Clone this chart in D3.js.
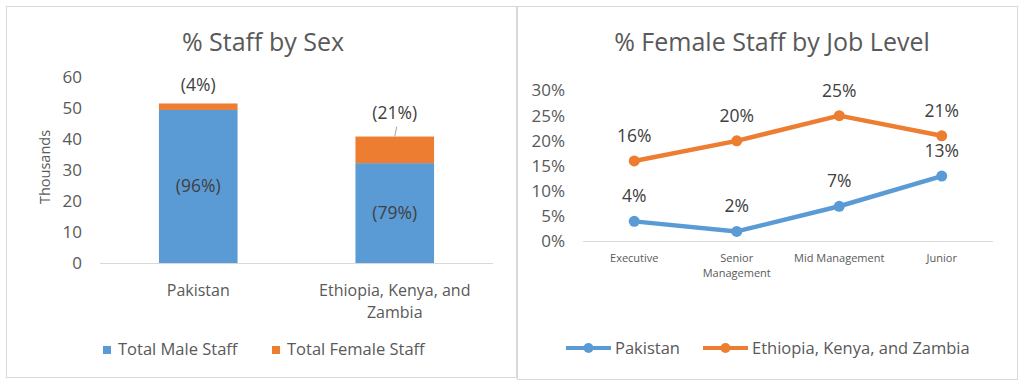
<!DOCTYPE html>
<html>
<head>
<meta charset="utf-8">
<script src="https://cdn.jsdelivr.net/npm/d3@7"></script>
<style>
  body { margin: 0; background: #fff; }
  svg { display: block; font-family: "Open Sans", sans-serif; }
</style>
</head>
<body>
<svg width="1024" height="384"></svg>
<script>
// left chart data (thousands of staff)
const countries = ["Pakistan", "Ethiopia, Kenya, and Zambia"];
const maleStaff = [49.5, 32.3];
const femaleStaff = [2.1, 8.6];
const maleLabels = ["(96%)", "(79%)"];
const femaleLabels = ["(4%)", "(21%)"];
const yTicksLeft = [0, 10, 20, 30, 40, 50, 60];

// right chart data (% female)
const jobLevels = ["Executive", "Senior Management", "Mid Management", "Junior"];
const pakistanFemale = [0.04, 0.02, 0.07, 0.13];
const ekzFemale = [0.16, 0.20, 0.25, 0.21];
const yTicksRight = [0, 0.05, 0.10, 0.15, 0.20, 0.25, 0.30];

const blue = "#5B9BD5", orange = "#ED7D31", textCol = "#595959", gridCol = "#D9D9D9";

const svg = d3.select("svg");

// panel frames
svg.append("rect").attr("x", 6.5).attr("y", 6.5).attr("width", 510).attr("height", 371)
   .attr("fill", "none").attr("stroke", gridCol);
svg.append("rect").attr("x", 517.5).attr("y", 6.5).attr("width", 500).attr("height", 373)
   .attr("fill", "none").attr("stroke", gridCol);

// ---------- left: stacked bars ----------
const x1 = d3.scaleBand().domain(countries).range([100, 493]).paddingInner(0.6).paddingOuter(0.3);
const y1 = d3.scaleLinear().domain([0, 60]).range([263, 77.5]);

svg.append("text").attr("x", 263).attr("y", 51).attr("text-anchor", "middle")
   .attr("font-size", 25).attr("fill", textCol).text("% Staff by Sex");

const gy1 = svg.append("g").attr("transform", "translate(100,0)")
   .call(d3.axisLeft(y1).tickValues(yTicksLeft).tickSize(0).tickPadding(18));
gy1.select(".domain").remove();
gy1.selectAll("text").attr("font-size", 17).attr("fill", textCol).attr("font-family", "Open Sans");

svg.append("text").attr("transform", "translate(50,167) rotate(-90)").attr("text-anchor", "middle")
   .attr("font-size", 14.5).attr("fill", textCol).text("Thousands");

const bars = svg.append("g");
bars.selectAll(".male").data(countries).join("rect")
   .attr("x", d => x1(d)).attr("width", x1.bandwidth())
   .attr("y", (d, i) => y1(maleStaff[i])).attr("height", (d, i) => y1(0) - y1(maleStaff[i]))
   .attr("fill", blue);
bars.selectAll(".female").data(countries).join("rect")
   .attr("x", d => x1(d)).attr("width", x1.bandwidth())
   .attr("y", (d, i) => y1(maleStaff[i] + femaleStaff[i]))
   .attr("height", (d, i) => y1(maleStaff[i]) - y1(maleStaff[i] + femaleStaff[i]))
   .attr("fill", orange);

// x axis line
svg.append("line").attr("x1", 100).attr("x2", 493).attr("y1", 263.5).attr("y2", 263.5)
   .attr("stroke", gridCol);

// in-bar labels
svg.selectAll(".ml").data(countries).join("text")
   .attr("x", d => x1(d) + x1.bandwidth() / 2)
   .attr("y", (d, i) => (y1(0) + y1(maleStaff[i])) / 2 + 6)
   .attr("text-anchor", "middle").attr("font-size", 17.5).attr("fill", "#404040")
   .text((d, i) => maleLabels[i]);
// female labels above bars
const femOffset = [12, 18];
svg.selectAll(".fl").data(countries).join("text")
   .attr("x", d => x1(d) + x1.bandwidth() / 2)
   .attr("y", (d, i) => y1(maleStaff[i] + femaleStaff[i]) - femOffset[i])
   .attr("text-anchor", "middle").attr("font-size", 17.5).attr("fill", "#404040")
   .text((d, i) => femaleLabels[i]);
// leader line for the (21%) label
const cx2 = x1(countries[1]) + x1.bandwidth() / 2;
const top2 = y1(maleStaff[1] + femaleStaff[1]);
svg.append("line").attr("x1", cx2 + 2).attr("y1", top2 - 10).attr("x2", cx2).attr("y2", top2)
   .attr("stroke", "#A6A6A6");

// category labels
svg.append("text").attr("x", x1(countries[0]) + x1.bandwidth() / 2).attr("y", 296)
   .attr("text-anchor", "middle").attr("font-size", 16).attr("fill", textCol).text(countries[0]);
const cat2 = svg.append("text").attr("text-anchor", "middle").attr("font-size", 16).attr("fill", textCol);
cat2.append("tspan").attr("x", cx2).attr("y", 296).text("Ethiopia, Kenya, and");
cat2.append("tspan").attr("x", cx2).attr("y", 318).text("Zambia");

// legend
const leg1 = [["Total Male Staff", blue, 103], ["Total Female Staff", orange, 272]];
leg1.forEach(([name, col, lx]) => {
  svg.append("rect").attr("x", lx).attr("y", 346).attr("width", 8).attr("height", 8).attr("fill", col);
  svg.append("text").attr("x", lx + 15).attr("y", 355).attr("font-size", 16.5).attr("fill", textCol).text(name);
});

// ---------- right: line chart ----------
const x2 = d3.scalePoint().domain(jobLevels).range([583, 993]).padding(0.5);
const y2 = d3.scaleLinear().domain([0, 0.30]).range([241.5, 90.5]);

svg.append("text").attr("x", 772).attr("y", 51).attr("text-anchor", "middle")
   .attr("font-size", 25).attr("fill", textCol).text("% Female Staff by Job Level");

const gy2 = svg.append("g").attr("transform", "translate(583,0)")
   .call(d3.axisLeft(y2).tickValues(yTicksRight).tickFormat(d3.format(".0%")).tickSize(0).tickPadding(18));
gy2.select(".domain").remove();
gy2.selectAll("text").attr("font-size", 17).attr("fill", textCol).attr("font-family", "Open Sans");

svg.append("line").attr("x1", 583).attr("x2", 993).attr("y1", 241.5).attr("y2", 241.5)
   .attr("stroke", gridCol);

// category labels (wrapped)
const catLines = { "Senior Management": ["Senior", "Management"] };
jobLevels.forEach(d => {
  const t = svg.append("text").attr("text-anchor", "middle").attr("font-size", 11).attr("fill", textCol);
  (catLines[d] || [d]).forEach((s, k) => t.append("tspan").attr("x", x2(d)).attr("y", 262 + k * 15).text(s));
});

const line = d3.line().x((d, i) => x2(jobLevels[i])).y(d => y2(d));
const series = [[pakistanFemale, blue], [ekzFemale, orange]];
series.forEach(([vals, col]) => {
  svg.append("path").datum(vals).attr("d", line).attr("fill", "none")
     .attr("stroke", col).attr("stroke-width", 4.5).attr("stroke-linejoin", "round").attr("stroke-linecap", "round");
  svg.append("g").selectAll("circle").data(vals).join("circle")
     .attr("cx", (d, i) => x2(jobLevels[i])).attr("cy", d => y2(d)).attr("r", 5.5).attr("fill", col);
  svg.append("g").selectAll("text").data(vals).join("text")
     .attr("x", (d, i) => x2(jobLevels[i])).attr("y", d => y2(d) - 19)
     .attr("text-anchor", "middle").attr("font-size", 17.5).attr("fill", "#404040")
     .text(d => d3.format(".0%")(d));
});

// legend
const leg2 = [["Pakistan", blue, 566], ["Ethiopia, Kenya, and Zambia", orange, 703]];
leg2.forEach(([name, col, lx]) => {
  svg.append("line").attr("x1", lx).attr("x2", lx + 45).attr("y1", 348).attr("y2", 348)
     .attr("stroke", col).attr("stroke-width", 4);
  svg.append("circle").attr("cx", lx + 22.5).attr("cy", 348).attr("r", 5).attr("fill", col);
  svg.append("text").attr("x", lx + 49).attr("y", 354).attr("font-size", 16.5).attr("fill", textCol).text(name);
});
</script>
</body>
</html>
